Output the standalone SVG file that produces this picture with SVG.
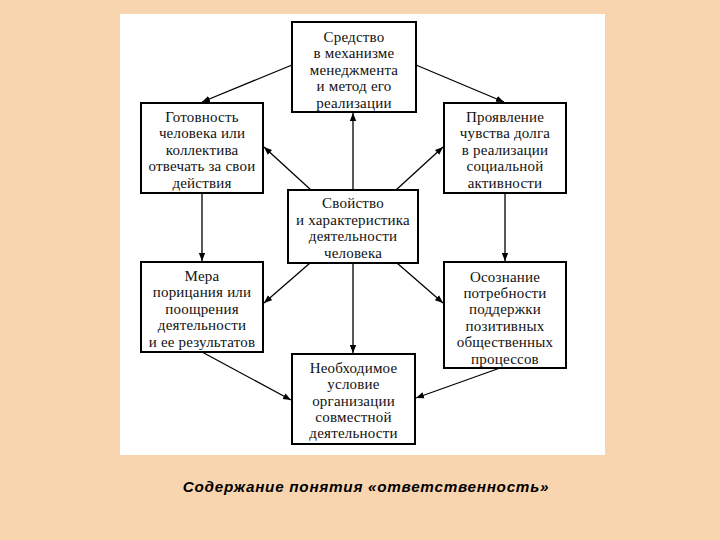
<svg xmlns="http://www.w3.org/2000/svg" width="720" height="540" viewBox="0 0 720 540">
<defs>
<marker id="ah" viewBox="0 0 10 10" refX="10" refY="5" markerWidth="8" markerHeight="8" markerUnits="userSpaceOnUse" orient="auto">
<path d="M0,1 L10,5 L0,9 Z" fill="#000"/>
</marker>
<style>
.box{fill:#fff;stroke:#000;stroke-width:2}
.t{font-family:"Liberation Serif","DejaVu Serif",serif;font-size:15px;fill:#111;text-anchor:middle;letter-spacing:0.2px}
.c{stroke:#000;stroke-width:1.3;fill:none;marker-end:url(#ah)}
.cap{font-family:"Liberation Sans","DejaVu Sans",sans-serif;font-size:15.3px;font-weight:bold;font-style:italic;fill:#000;text-anchor:middle;letter-spacing:0.7px}
</style>
</defs>
<rect x="0" y="0" width="720" height="540" fill="#F9D5AF"/>
<rect x="120" y="14" width="485" height="441" fill="#fff"/>

<g id="connectors">
<line class="c" x1="292" y1="65" x2="202" y2="102"/>
<line class="c" x1="416" y1="65" x2="504" y2="102"/>
<line class="c" x1="353" y1="190" x2="353" y2="113"/>
<line class="c" x1="311" y1="190" x2="264" y2="147"/>
<line class="c" x1="396" y1="190" x2="443" y2="147"/>
<line class="c" x1="202" y1="193" x2="202" y2="261"/>
<line class="c" x1="505" y1="193" x2="505" y2="261"/>
<line class="c" x1="353" y1="263" x2="353" y2="353"/>
<line class="c" x1="310" y1="263" x2="264" y2="303"/>
<line class="c" x1="397" y1="263" x2="443" y2="303"/>
<line class="c" x1="202" y1="352" x2="291" y2="400"/>
<line class="c" x1="500" y1="368" x2="416" y2="398"/>
</g>

<g id="top">
<rect class="box" x="292" y="22" width="124" height="90"/>
<text class="t" x="354" y="41.5">Средство</text>
<text class="t" x="354" y="58">в механизме</text>
<text class="t" x="354" y="74.5">менеджмента</text>
<text class="t" x="354" y="91">и метод его</text>
<text class="t" x="354" y="107.5">реализации</text>
</g>

<g id="left">
<rect class="box" x="141" y="103" width="122" height="90"/>
<text class="t" x="202" y="121.5">Готовность</text>
<text class="t" x="202" y="138">человека или</text>
<text class="t" x="202" y="154.5">коллектива</text>
<text class="t" x="202" y="171">отвечать за свои</text>
<text class="t" x="202" y="187.5">действия</text>
</g>

<g id="right">
<rect class="box" x="444" y="103" width="122" height="90"/>
<text class="t" x="505" y="121.5">Проявление</text>
<text class="t" x="505" y="138">чувства долга</text>
<text class="t" x="505" y="154.5">в реализации</text>
<text class="t" x="505" y="171">социальной</text>
<text class="t" x="505" y="187.5">активности</text>
</g>

<g id="center">
<rect class="box" x="288" y="190" width="130" height="73"/>
<text class="t" x="353" y="208">Свойство</text>
<text class="t" x="353" y="225">и характеристика</text>
<text class="t" x="353" y="241">деятельности</text>
<text class="t" x="353" y="257.5">человека</text>
</g>

<g id="mera">
<rect class="box" x="141" y="262" width="122" height="90"/>
<text class="t" x="202" y="280.5">Мера</text>
<text class="t" x="202" y="297">порицания или</text>
<text class="t" x="202" y="313.5">поощрения</text>
<text class="t" x="202" y="330">деятельности</text>
<text class="t" x="202" y="346.5">и ее результатов</text>
</g>

<g id="osoznanie">
<rect class="box" x="444" y="262" width="122" height="106"/>
<text class="t" x="505" y="281.5">Осознание</text>
<text class="t" x="505" y="297.5">потребности</text>
<text class="t" x="505" y="314">поддержки</text>
<text class="t" x="505" y="330.5">позитивных</text>
<text class="t" x="505" y="346.5">общественных</text>
<text class="t" x="505" y="363.5">процессов</text>
</g>

<g id="bottom">
<rect class="box" x="292" y="354" width="123" height="90"/>
<text class="t" x="353.5" y="372.5">Необходимое</text>
<text class="t" x="353.5" y="389">условие</text>
<text class="t" x="353.5" y="405.5">организации</text>
<text class="t" x="353.5" y="421.5">совместной</text>
<text class="t" x="353.5" y="438">деятельности</text>
</g>

<text class="cap" x="366" y="492">Содержание понятия «ответственность»</text>
</svg>
